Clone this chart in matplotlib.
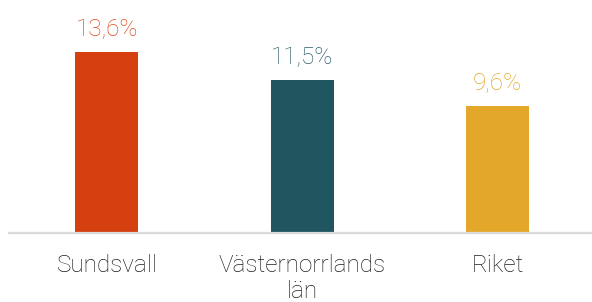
import matplotlib
matplotlib.use("Agg")
import matplotlib.pyplot as plt

categories = ["Sundsvall", "Västernorrlands\nlän", "Riket"]
values = [13.6, 11.5, 9.6]
value_labels = ["13,6%", "11,5%", "9,6%"]
bar_colors = ["#D63F10", "#1F5660", "#E3A82A"]
label_colors = ["#D94A1C", "#2C6069", "#E3A82A"]

fam = ["Roboto", "DejaVu Sans"]
W, H = 592, 302
fig = plt.figure(figsize=(W / 100, H / 100), dpi=100)
base_px = 233
ax = fig.add_axes([9 / W, (H - base_px) / H, (592 - 9) / W, base_px / H])
ax.set_xlim(-0.5, 2.5 - 3.5 / 195.5)
ax.set_ylim(0, base_px / 13.28)

x = list(range(len(categories)))
ax.bar(x, values, width=0.322, color=bar_colors, zorder=2)

for s in ["top", "right", "left"]:
    ax.spines[s].set_visible(False)
ax.spines["bottom"].set_color("#D9D9D9")
ax.spines["bottom"].set_linewidth(1.6)
ax.spines["bottom"].set_zorder(3)
ax.set_xticks([])
ax.set_yticks([])

px = 72 / 100
for xi, v, lab, c in zip(x, values, value_labels, label_colors):
    ax.annotate(lab, xy=(xi, v), xytext=(0, 16.5 * px), textcoords="offset points",
                ha="center", va="baseline", color=c, fontsize=17.5,
                family=fam, fontweight="light")

line_step = 25.5
for xi, cat in zip(x, categories):
    nlines = cat.count("\n") + 1
    ax.annotate(cat, xy=(xi, 0), xytext=(0, -(39 + (nlines - 1) * line_step) * px),
                textcoords="offset points",
                ha="center", va="baseline", color="#1E1E1E", fontsize=17.5,
                family=fam, fontweight="light", linespacing=1.16,
                multialignment="center")

fig.savefig("out.png", dpi=100)
